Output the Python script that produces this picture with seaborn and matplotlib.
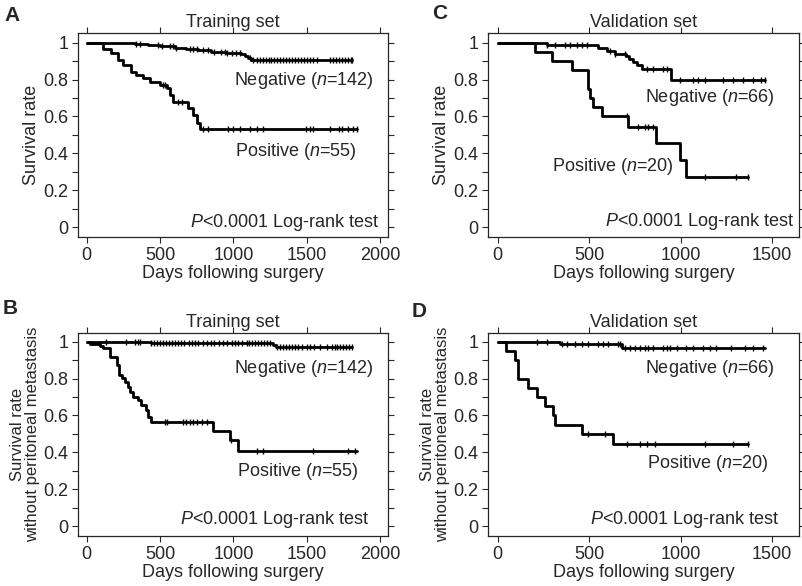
import numpy as np
import pandas as pd
import matplotlib
matplotlib.use("Agg")
import matplotlib.pyplot as plt
import seaborn as sns

# -----------------------------
# Data (Kaplan-Meier steps + censor times)
# -----------------------------

# A: training set, overall survival
a_neg_t = [0, 330, 420, 500, 600, 680, 760, 850, 950, 1050, 1080, 1100, 1120]
a_neg_s = [1.0, 0.993, 0.986, 0.979, 0.972, 0.965, 0.958, 0.951, 0.944, 0.936, 0.925, 0.914, 0.905]
a_neg_end = 1810
a_neg_cens = [339, 362, 487, 510, 567, 589, 612, 703, 726, 749, 794, 830, 870, 919, 940,
              960, 990, 1020, 1044, 1113, 1135, 1160, 1180, 1200, 1220, 1240, 1260, 1280,
              1300, 1320, 1340, 1360, 1380, 1400, 1420, 1440, 1460, 1480, 1500, 1520, 1545,
              1568, 1659, 1680, 1700, 1720, 1740, 1760, 1780, 1800, 1810]

a_pos_t = [0, 111, 168, 214, 248, 305, 339, 385, 430, 498, 544, 567, 590, 692, 726, 749, 771]
a_pos_s = [1.0, 0.964, 0.942, 0.906, 0.879, 0.843, 0.825, 0.810, 0.788, 0.770, 0.753,
           0.716, 0.680, 0.644, 0.608, 0.563, 0.531]
a_pos_end = 1841
a_pos_cens = [520, 535, 620, 650, 794, 828, 965, 999, 1044, 1113, 1158, 1203, 1494, 1522,
              1545, 1659, 1721, 1738, 1784, 1818, 1841]

# B: training set, survival without peritoneal metastasis
b_neg_t = [0, 441, 1272, 1290]
b_neg_s = [1.0, 0.993, 0.982, 0.971]
b_neg_end = 1806
b_neg_cens = [130, 271, 328, 350, 362, 441, 460, 480, 500, 520, 540, 560, 580, 600, 620, 640,
              660, 700, 720, 740, 760, 790, 820, 850, 870, 900, 930, 960, 990, 1010, 1030,
              1060, 1090, 1110, 1130, 1150, 1170, 1190, 1210, 1230, 1250, 1300, 1320, 1340,
              1360, 1380, 1400, 1420, 1440, 1470, 1500, 1520, 1550, 1590, 1640, 1670, 1690,
              1710, 1730, 1750, 1770, 1790, 1806]

b_pos_t = [0, 20, 89, 111, 157, 203, 220, 243, 259, 282, 294, 316, 350, 373, 407, 418, 441,
           862, 976, 1033]
b_pos_s = [1.0, 0.987, 0.978, 0.964, 0.915, 0.874, 0.819, 0.801, 0.783, 0.756, 0.729, 0.702,
           0.684, 0.657, 0.629, 0.593, 0.566, 0.515, 0.467, 0.407]
b_pos_end = 1841
b_pos_cens = [532, 544, 658, 680, 703, 726, 749, 783, 817, 985, 1158, 1203, 1545, 1784, 1829]

# C: validation set, overall survival
c_neg_t = [0, 267, 549, 595, 640, 700, 720, 740, 760, 790, 945]
c_neg_s = [1.0, 0.985, 0.97, 0.955, 0.94, 0.925, 0.91, 0.895, 0.88, 0.855, 0.80]
c_neg_end = 1460
c_neg_cens = [267, 313, 368, 395, 431, 459, 486, 613, 640, 695, 814, 850, 905, 923, 996, 1068,
              1096, 1132, 1232, 1287, 1341, 1396, 1442, 1460]

c_pos_t = [0, 204, 295, 404, 495, 504, 522, 568, 713, 868, 996, 1032]
c_pos_s = [1.0, 0.95, 0.90, 0.85, 0.75, 0.70, 0.65, 0.60, 0.545, 0.455, 0.364, 0.273]
c_pos_end = 1369
c_pos_cens = [705, 768, 804, 823, 850, 1132, 1305, 1369]

# D: validation set, survival without peritoneal metastasis
d_neg_t = [0, 340, 677]
d_neg_s = [1.0, 0.985, 0.967]
d_neg_end = 1460
d_neg_cens = [213, 268, 349, 377, 422, 459, 495, 549, 577, 604, 659, 668, 695, 723, 750, 777,
              805, 823, 850, 905, 923, 941, 978, 1032, 1068, 1123, 1160, 1196, 1278, 1351,
              1396, 1451]

d_pos_t = [0, 45, 95, 113, 167, 213, 258, 304, 313, 459, 631]
d_pos_s = [1.0, 0.95, 0.90, 0.80, 0.75, 0.70, 0.65, 0.60, 0.55, 0.50, 0.445]
d_pos_end = 1369
d_pos_cens = [495, 586, 705, 777, 814, 859, 1132, 1287, 1369]

panels = [
    dict(letter="A", title="Training set", ylabel="Survival rate",
         neg=(a_neg_t, a_neg_s, a_neg_end, a_neg_cens), pos=(a_pos_t, a_pos_s, a_pos_end, a_pos_cens),
         neg_lab="Negative ($\\mathit{n}$=142)", pos_lab="Positive ($\\mathit{n}$=55)",
         neg_xy=(1954, 0.797), pos_xy=(1841, 0.41), p_xy=(2000, 0.025),
         xticks=[0, 500, 1000, 1500, 2000], xlim=(-60, 2055), ylim=(-0.053, 1.052),
         rect=[0.0971, 0.5956, 0.3861, 0.3481], letter_xy=(0.006, 0.99)),
    dict(letter="C", title="Validation set", ylabel="Survival rate",
         neg=(c_neg_t, c_neg_s, c_neg_end, c_neg_cens), pos=(c_pos_t, c_pos_s, c_pos_end, c_pos_cens),
         neg_lab="Negative ($\\mathit{n}$=66)", pos_lab="Positive ($\\mathit{n}$=20)",
         neg_xy=(1515, 0.70), pos_xy=(959, 0.328), p_xy=(1624, 0.03),
         xticks=[0, 500, 1000, 1500], xlim=(-53, 1647), ylim=(-0.053, 1.052),
         rect=[0.6077, 0.5956, 0.3873, 0.3481], letter_xy=(0.538, 0.993)),
    dict(letter="B", title="Training set", ylabel="Survival rate\nwithout peritoneal metastasis",
         neg=(b_neg_t, b_neg_s, b_neg_end, b_neg_cens), pos=(b_pos_t, b_pos_s, b_pos_end, b_pos_cens),
         neg_lab="Negative ($\\mathit{n}$=142)", pos_lab="Positive ($\\mathit{n}$=55)",
         neg_xy=(1954, 0.852), pos_xy=(1852, 0.295), p_xy=(1932, 0.033),
         xticks=[0, 500, 1000, 1500, 2000], xlim=(-60, 2055), ylim=(-0.054, 1.047),
         rect=[0.0971, 0.0853, 0.3861, 0.3464], letter_xy=(0.003, 0.49)),
    dict(letter="D", title="Validation set", ylabel="Survival rate\nwithout peritoneal metastasis",
         neg=(d_neg_t, d_neg_s, d_neg_end, d_neg_cens), pos=(d_pos_t, d_pos_s, d_pos_end, d_pos_cens),
         neg_lab="Negative ($\\mathit{n}$=66)", pos_lab="Positive ($\\mathit{n}$=20)",
         neg_xy=(1515, 0.856), pos_xy=(1478, 0.34), p_xy=(1542, 0.033),
         xticks=[0, 500, 1000, 1500], xlim=(-53, 1647), ylim=(-0.054, 1.047),
         rect=[0.6077, 0.0853, 0.3873, 0.3464], letter_xy=(0.513, 0.485)),
]

# -----------------------------
# Style
# -----------------------------
sns.set_style("ticks")
plt.rcParams["font.family"] = ["Liberation Sans", "DejaVu Sans"]
plt.rcParams["mathtext.fontset"] = "custom"
plt.rcParams["mathtext.rm"] = "Liberation Sans"
plt.rcParams["mathtext.it"] = "Liberation Sans:italic"
plt.rcParams["axes.linewidth"] = 0.9

FS = 13


def km_frame(t, s, end):
    df = pd.DataFrame({"day": list(t) + [end], "surv": list(s) + [s[-1]]})
    return df


def cens_frame(t, s, cens):
    t = np.asarray(t)
    s = np.asarray(s)
    c = np.asarray(cens)
    idx = np.searchsorted(t, c, side="right") - 1
    return pd.DataFrame({"day": c, "surv": s[idx]})


fig = plt.figure(figsize=(8.03, 5.86), dpi=100)

for p in panels:
    ax = fig.add_axes(p["rect"])
    for key in ["neg", "pos"]:
        t, s, end, cens = p[key]
        sns.lineplot(data=km_frame(t, s, end), x="day", y="surv", ax=ax, color="black",
                     linewidth=2.0, drawstyle="steps-post", estimator=None, sort=False)
        sns.scatterplot(data=cens_frame(t, s, cens), x="day", y="surv", ax=ax, color="black",
                        marker="|", s=22, linewidth=1.0)

    ax.set_xlim(*p["xlim"])
    ax.set_ylim(*p["ylim"])
    ax.set_xticks(p["xticks"])
    ax.set_xticklabels([str(x) for x in p["xticks"]])
    ax.set_yticks([0, 0.2, 0.4, 0.6, 0.8, 1.0])
    ax.set_yticklabels(["0", "0.2", "0.4", "0.6", "0.8", "1"])
    ax.set_yticks(np.arange(0.1, 1.0, 0.2), minor=True)
    ax.tick_params(which="both", direction="out", top=True, right=True, labelsize=FS,
                   width=0.8, pad=3)
    ax.tick_params(which="major", length=4)
    ax.tick_params(which="minor", length=4)
    for sp in ax.spines.values():
        sp.set_visible(True)

    two_line = "\n" in p["ylabel"]
    ax.set_xlabel("Days following surgery", fontsize=FS, labelpad=1)
    ax.set_ylabel(p["ylabel"], fontsize=12 if two_line else FS, labelpad=2, linespacing=1.0)
    ax.set_title(p["title"], fontsize=FS, pad=4)

    ax.text(*p["neg_xy"], p["neg_lab"], ha="right", va="center", fontsize=FS)
    ax.text(*p["pos_xy"], p["pos_lab"], ha="right", va="center", fontsize=FS)
    ax.text(*p["p_xy"], "$\\mathit{P}$<0.0001 Log-rank test", ha="right", va="center", fontsize=FS)

    fig.text(*p["letter_xy"], p["letter"], fontsize=15, fontweight="bold", ha="left", va="top")

fig.savefig("out.png", dpi=100)
